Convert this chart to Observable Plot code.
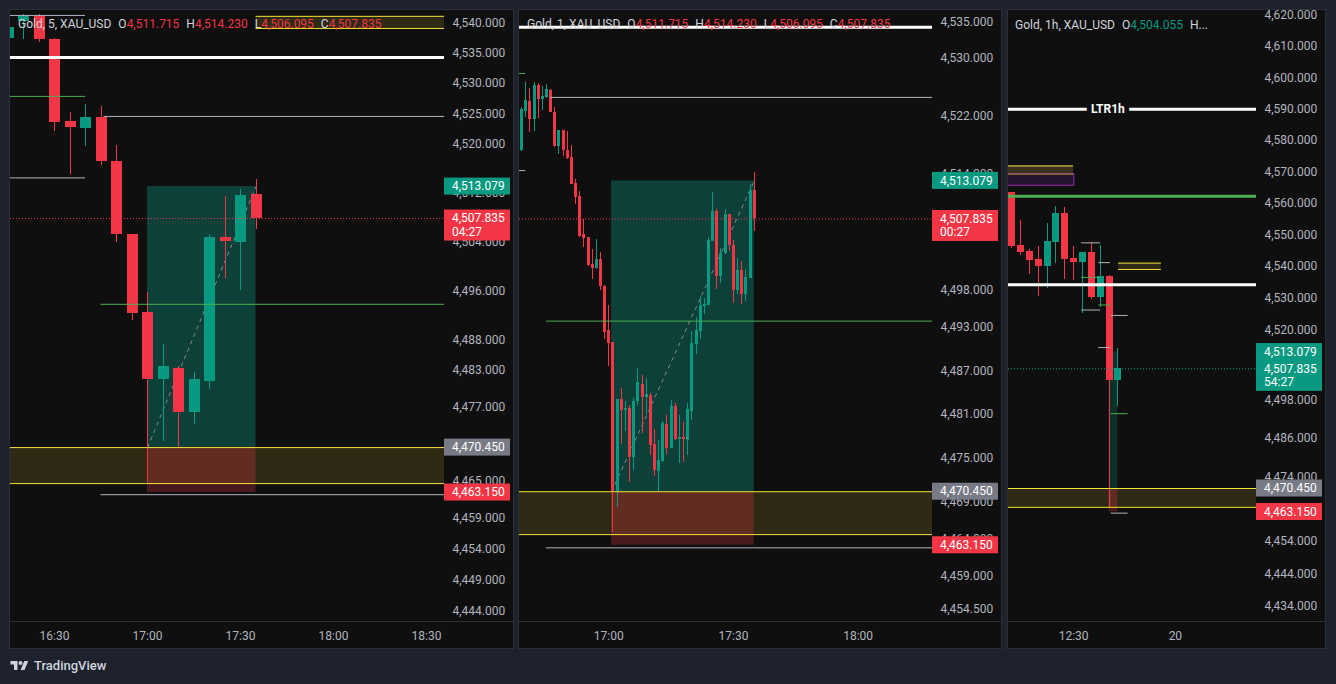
<!DOCTYPE html>
<html><head><meta charset="utf-8">
<script src="https://cdn.jsdelivr.net/npm/d3@7"></script>
<script src="https://cdn.jsdelivr.net/npm/@observablehq/plot@0.6"></script>
<style>
html,body{margin:0;padding:0;background:#1e222d;width:1336px;height:684px;overflow:hidden;font-family:Roboto,"Noto Sans",sans-serif;}
.panel{position:absolute;top:9px;height:638px;background:#0f0f0f;border:1px solid #2a2e39;}
.panel svg{position:absolute;left:0;top:0;}
.sep{position:absolute;left:0;right:0;top:611px;height:1px;background:#2a2e39;}
.hdr{position:absolute;font-size:12px;line-height:14px;color:#d1d4dc;white-space:nowrap;z-index:3;}
.hdr .k{margin-left:7px;}
.hdr .dn{color:#f23645;}
.hdr .up{color:#089981;}
#logo{position:absolute;left:10px;top:658px;display:flex;align-items:center;color:#d1d4dc;font-size:13px;font-weight:500;}
#logo svg{margin-right:5px;}
</style></head>
<body>
<div class="panel" id="p1" style="left:9px;width:503px"><div class="sep"></div></div>
<div class="panel" id="p2" style="left:518px;width:482px"><div class="sep"></div></div>
<div class="panel" id="p3" style="left:1007px;width:317px"><div class="sep"></div></div>
<div class="hdr" style="left:18px;top:17px"><span>Gold, 5, XAU_USD</span><span class="k">O</span><span class="dn">4,511.715</span><span class="k">H</span><span class="dn">4,514.230</span><span class="k">L</span><span class="dn">4,506.095</span><span class="k">C</span><span class="dn">4,507.835</span></div>
<div class="hdr" style="left:527px;top:17px"><span>Gold, 1, XAU_USD</span><span class="k">O</span><span class="dn">4,511.715</span><span class="k">H</span><span class="dn">4,514.230</span><span class="k">L</span><span class="dn">4,506.095</span><span class="k">C</span><span class="dn">4,507.835</span></div>
<div class="hdr" style="left:1015px;top:18px"><span>Gold, 1h, XAU_USD</span><span class="k">O</span><span class="up">4,504.055</span><span class="k">H...</span></div>
<div id="logo"><svg width="19" height="14" viewBox="0 0 36 28"><path d="M14 22H7V11H0V4h14v18zM28 22h-8l7.5-18h8L28 22z" fill="#d1d4dc"/><circle cx="20" cy="8" r="4" fill="#d1d4dc"/></svg>TradingView</div>
<script>
// ---------- data ----------
const m5Time  = ["16:15","16:20","16:25","16:30","16:35","16:40","16:45","16:50","16:55","17:00","17:05","17:10","17:15","17:20","17:25","17:30","17:35"];
const m5Open  = [4537.4,4540.2,4541.0,4537.2,4523.7,4522.6,4524.4,4517.2,4505.2,4492.5,4481.6,4483.4,4476.2,4481.2,4504.8,4503.9,4511.715];
const m5High  = [4539.6,4541.4,4541.4,4537.5,4525.3,4526.6,4526.3,4519.8,4505.2,4495.8,4487.2,4483.7,4482.7,4505.2,4511.5,4512.6,4514.23];
const m5Low   = [4537.1,4537.3,4536.8,4522.1,4515.1,4519.6,4516.5,4503.9,4491.2,4464.7,4471.5,4470.3,4474.2,4479.9,4498.1,4496.0,4506.095];
const m5Close = [4539.2,4541.0,4537.2,4523.6,4522.8,4524.4,4517.2,4505.2,4492.3,4481.6,4483.7,4476.2,4481.6,4504.8,4504.1,4511.6,4507.835];

const m1Time  = ["16:39","16:40","16:41","16:42","16:43","16:44","16:45","16:46","16:47","16:48","16:49","16:50","16:51","16:52","16:53","16:54","16:55","16:56","16:57","16:58","16:59",
                 "17:00","17:01","17:02","17:03","17:04","17:05","17:06","17:07","17:08","17:09","17:10","17:11","17:12","17:13","17:14","17:15","17:16","17:17","17:18","17:19",
                 "17:20","17:21","17:22","17:23","17:24","17:25","17:26","17:27","17:28","17:29","17:30","17:31","17:32","17:33","17:34","17:35"];
const m1Open  = [4517.30,4522.70,4524.03,4521.56,4526.22,4524.30,4524.57,4525.54,4522.52,4517.76,4520.05,4517.30,4516.34,4512.78,4510.99,4505.64,4505.23,4501.53,4500.98,4502.22,4498.51,
                 4492.48,4490.83,4470.44,4483.01,4481.55,4481.78,4475.10,4482.74,4485.07,4483.33,4483.56,4476.97,4473.18,4474.55,4479.58,4476.34,4482.10,4477.65,4477.80,4477.43,
                 4481.41,4490.55,4492.34,4495.82,4495.95,4504.73,4508.80,4499.93,4503.04,4508.39,4504.18,4498.01,4500.71,4497.46,4499.66,4511.715];
const m1High  = [4523.16,4526.63,4525.81,4526.63,4526.50,4526.08,4526.36,4525.67,4523.20,4520.05,4520.05,4519.91,4517.99,4513.33,4511.68,4507.70,4505.23,4503.59,4504.96,4503.18,4498.65,
                 4495.91,4490.83,4483.01,4484.52,4482.74,4482.19,4483.15,4487.27,4486.30,4485.89,4483.84,4478.90,4477.43,4480.04,4480.82,4482.88,4482.46,4480.82,4479.86,4482.46,
                 4492.34,4494.26,4497.14,4496.87,4505.23,4511.54,4509.08,4503.73,4509.08,4508.39,4504.82,4502.35,4501.94,4500.85,4512.64,4514.23];
const m1Low   = [4517.17,4521.88,4519.82,4519.96,4521.69,4522.79,4524.44,4522.50,4517.70,4516.76,4516.48,4516.07,4512.60,4509.76,4505.30,4503.86,4501.35,4499.47,4500.95,4497.96,4491.24,
                 4487.54,4464.90,4468.33,4476.97,4478.62,4471.67,4473.32,4482.24,4478.39,4480.96,4475.38,4472.50,4470.44,4474.50,4475.51,4476.30,4477.50,4474.28,4474.42,4475.38,
                 4480.18,4489.23,4491.29,4494.72,4495.90,4504.70,4498.15,4498.93,4503.00,4503.36,4496.23,4497.46,4496.09,4496.50,4499.60,4506.095];
const m1Close = [4522.93,4524.16,4521.56,4526.22,4524.30,4524.71,4525.67,4522.56,4517.76,4520.05,4517.30,4516.21,4512.64,4510.86,4505.37,4505.10,4501.39,4500.98,4502.22,4498.51,4492.20,
                 4490.69,4470.44,4483.01,4481.55,4481.78,4475.10,4482.74,4485.34,4483.33,4483.70,4476.75,4473.32,4474.65,4479.72,4476.34,4482.10,4477.57,4477.80,4477.65,4481.64,
                 4490.69,4492.48,4495.95,4496.09,4504.82,4508.80,4499.93,4503.04,4508.39,4504.18,4498.01,4500.71,4497.46,4499.75,4511.82,4507.835];

const h1Time  = ["05:30","06:30","07:30","08:30","09:30","10:30","11:30","12:30","13:30","14:30","15:30","16:30","17:30"];
const h1Open  = [4563.6,4546.8,4544.9,4542.3,4540.0,4547.7,4556.9,4542.6,4541.3,4544.5,4530.3,4536.8,4504.055];
const h1High  = [4563.6,4554.7,4545.5,4546.4,4553.7,4559.1,4558.8,4546.4,4544.5,4547.7,4546.8,4537.1,4514.23];
const h1Low   = [4545.8,4543.4,4537.5,4530.6,4533.1,4541.0,4536.0,4535.6,4525.2,4529.6,4527.2,4464.7,4496.09];
const h1Close = [4546.4,4544.6,4542.0,4540.0,4548.0,4556.9,4542.3,4541.3,4544.5,4530.3,4536.9,4504.06,4507.835];

const lastPrice = 4507.835, targetPrice = 4513.079, entryPrice = 4470.45, stopPrice = 4463.15;
const countdown = {m5: "04:27", m1: "00:27", h1: "54:27"};
const posFrom = {m5: "17:00", m1: "17:00:40", h1: "16:30"};
const posTo   = {m5: "17:35", m1: "17:35",    h1: "17:30"};

const whiteLevels = [4534.3, 4590];
const greenLevels = [4562.3];
const ltrText = ["LTR1h"], ltrValue = [4590], ltrTime = ["16:22"];

const swingValue = [4541.25, 4527.9, 4514.5, 4524.6, 4493.8, 4462.8, 4547.5, 4536.6, 4526.3];
const swingFrom  = ["15:21","15:21","15:21","16:46","16:45","16:45","13:24","13:24","13:24"];
const swingTo    = ["16:40","16:40","16:40","18:40","18:40","18:40","15:33","15:33","15:33"];
const swingKind  = ["edge","mid","edge","edge","mid","edge","edge","mid","edge"];

const zoneTop    = [4470.45, 4541.1, 4571.9];
const zoneBottom = [4464.6, 4539.1, 4569.3];
const zoneFrom   = ["00:00","17:35","00:00"];
const zoneTo     = ["36:00","22:25","12:30"];
const zoneKind   = ["ltf","ltf","htf"];
const obTop = [4569.3], obBottom = [4565.6], obFrom = ["00:00"], obTo = ["12:35"];

const m5Ticks = ["16:30","17:00","17:30","18:00","18:30"];
const m1Ticks = ["17:00","17:30","18:00"];
const h1Ticks = ["12:30","24:00"];
const m5Prices = [4540,4535,4530,4525,4520,4512,4504,4496,4488,4483,4477,4465,4459,4454,4449,4444];
const m1Prices = [4535,4530,4522,4514,4498,4493,4487,4481,4475,4469,4464,4459,4454.5];
const h1Prices = [4620,4610,4600,4590,4580,4570,4560,4550,4540,4530,4520,4498,4486,4474,4464,4454,4444,4434];

// ---------- helpers ----------
const T = s => { const [h, m, sec = 0] = s.split(":").map(Number); return new Date(Date.UTC(2026, 0, 19, h, m, sec)); };
const fmtPrice = d3.format(",.3f");
const UP = "#089981", DOWN = "#f23645";
const toCandles = (time, o, h, l, c) => time.map((t, i) => ({t: T(t), open: o[i], high: h[i], low: l[i], close: c[i]}));
function timeDomain(anchor, anchorX, pxPerMin, left, right) {
  const a = T(anchor).getTime();
  return [new Date(a - (anchorX - left) / pxPerMin * 60000), new Date(a + (right - anchorX) / pxPerMin * 60000)];
}
function logDomain(v1, y1, v2, y2, top, bottom) {
  const b = (y2 - y1) / (Math.log(v1) - Math.log(v2));
  return [v1 * Math.exp(-(bottom - y1) / b), v1 * Math.exp((y1 - top) / b)];
}
const swings = swingValue.map((v, i) => ({v, from: T(swingFrom[i]), to: T(swingTo[i]), kind: swingKind[i]}));
const zones = zoneTop.map((v, i) => ({top: v, bottom: zoneBottom[i], from: T(zoneFrom[i]), to: T(zoneTo[i]), kind: zoneKind[i]}));
const obs = obTop.map((v, i) => ({top: v, bottom: obBottom[i], from: T(obFrom[i]), to: T(obTo[i])}));
const ltr = ltrText.map((s, i) => ({label: s, v: ltrValue[i], t: T(ltrTime[i])}));

function priceTags(tags) {
  return (index, scales, values, dimensions) => {
    const g = d3.create("svg:g").attr("class", "ptags").attr("text-anchor", "start").attr("font-size", 12);
    const x0 = dimensions.width - dimensions.marginRight;
    for (const tg of tags) {
      const y = scales.y(tg.value);
      g.append("rect").attr("x", x0).attr("y", y - 8.5).attr("width", 66).attr("height", tg.sub ? 31 : 17).attr("fill", tg.bg);
      g.append("text").attr("x", x0 + 8).attr("y", y).attr("dy", "0.35em").attr("text-anchor", "start").attr("fill", "#ffffff").text(fmtPrice(tg.value));
      if (tg.sub) g.append("text").attr("x", x0 + 8).attr("y", y + 13.5).attr("dy", "0.35em").attr("text-anchor", "start").attr("fill", "#ffffff").text(tg.sub);
    }
    return g.node();
  };
}

function panel(cfg) {
  const candles = cfg.candles;
  const [yLo, yHi] = cfg.yDomain;
  const pos = [{from: T(posFrom[cfg.key]), to: T(posTo[cfg.key]), entry: entryPrice, target: targetPrice, stop: stopPrice}];
  const col = d => d.close >= d.open ? UP : DOWN;
  const lastUp = candles[candles.length - 1].close >= candles[candles.length - 1].open;
  const curCol = cfg.key === "h1" ? (lastUp ? UP : DOWN) : DOWN;
  const tags = [
    {value: targetPrice, bg: UP},
    {value: lastPrice, bg: curCol, sub: countdown[cfg.key]},
    {value: entryPrice, bg: "#787b86"},
    {value: stopPrice, bg: DOWN}
  ];
  const svg = Plot.plot({
    width: cfg.width, height: 638,
    marginLeft: 0, marginRight: 69, marginTop: 0, marginBottom: 26,
    style: {background: "transparent", color: "#b2b5be", fontFamily: "Roboto, 'Noto Sans', sans-serif", fontSize: "12px", overflow: "visible"},
    color: {type: "identity"},
    x: {type: "utc", domain: cfg.xDomain, ticks: cfg.xTicks.map(T), tickFormat: cfg.xFormat, tickSize: 0, tickPadding: 9, label: null},
    y: {type: "log", domain: cfg.yDomain, ticks: cfg.yTicks, tickFormat: fmtPrice, tickSize: 0, tickPadding: 8, label: null, axis: "right"},
    marks: [
      Plot.rect(zones, {x1: "from", x2: "to", y1: "bottom", y2: "top", fill: d => d.kind === "htf" ? "#3a3121" : "#2e2a16", clip: true}),
      Plot.rect(obs, {x1: "from", x2: "to", y1: "bottom", y2: "top", fill: "#271530", stroke: "#9c27b0", strokeWidth: 1, clip: true}),
      Plot.rect(pos, {x1: "from", x2: "to", y1: "entry", y2: "target", fill: UP, fillOpacity: cfg.tealOpacity, clip: true}),
      Plot.rect(pos, {x1: "from", x2: "to", y1: "stop", y2: "entry", fill: DOWN, fillOpacity: 0.26, clip: true}),
      cfg.trend ? Plot.link(pos, {x1: "from", y1: "entry", x2: "to", y2: "target", stroke: "#868993", strokeWidth: 1, strokeDasharray: "4,4", clip: true}) : null,
      Plot.ruleX(candles, {x: "t", y1: "low", y2: "high", stroke: col, strokeWidth: 1, clip: true, shapeRendering: "crispEdges"}),
      Plot.ruleX(candles, {x: "t", y1: "open", y2: "close", stroke: col, strokeWidth: cfg.bodyWidth, clip: true, shapeRendering: "crispEdges"}),
      Plot.ruleY(zones, {y: "top", x1: "from", x2: "to", stroke: "#f5e23a", strokeWidth: 1, clip: true}),
      Plot.ruleY(zones, {y: "bottom", x1: "from", x2: "to", stroke: d => d.kind === "htf" ? "#a59a2a" : "#f5e23a", strokeWidth: 1, clip: true}),
      Plot.ruleY(swings, {y: "v", x1: "from", x2: "to", stroke: d => d.kind === "mid" ? "#4caf50" : "#b2b5be", strokeWidth: 1, clip: true}),
      Plot.ruleY(whiteLevels, {stroke: "#ffffff", strokeWidth: 3, clip: true}),
      Plot.ruleY(greenLevels, {stroke: "#4caf50", strokeWidth: 3, clip: true}),
      Plot.text(ltr.filter(d => d.v >= yLo && d.v <= yHi), {x: "t", y: "v", text: "label", fill: "#ffffff", stroke: "#0f0f0f", strokeWidth: 10, fontWeight: "bold", fontSize: 12, clip: true}),
      Plot.ruleY([lastPrice], {stroke: curCol, strokeWidth: 1, strokeDasharray: "1,2"}),
      priceTags(tags)
    ].filter(Boolean)
  });
  const g = svg.querySelector("g.ptags");
  if (g) svg.appendChild(g);
  document.getElementById(cfg.id).appendChild(svg);
}

const hm = d3.utcFormat("%H:%M");
panel({id: "p1", key: "m5", width: 503, bodyWidth: 11, tealOpacity: 0.36, trend: true,
  candles: toCandles(m5Time, m5Open, m5High, m5Low, m5Close),
  xDomain: timeDomain("17:00", 147, 3.1, 10, 444), xTicks: m5Ticks, xFormat: hm,
  yDomain: logDomain(4540, 22.5, 4444, 610.3, 10, 622), yTicks: m5Prices});
panel({id: "p2", key: "m1", width: 482, bodyWidth: 3, tealOpacity: 0.36, trend: true,
  candles: toCandles(m1Time, m1Open, m1High, m1Low, m1Close),
  xDomain: timeDomain("17:00", 608.3, 4.155, 519, 932), xTicks: m1Ticks, xFormat: hm,
  yDomain: logDomain(4535, 21.7, 4454.5, 608.3, 10, 622), yTicks: m1Prices});
panel({id: "p3", key: "h1", width: 317, bodyWidth: 7, tealOpacity: 0.24, trend: false,
  candles: toCandles(h1Time, h1Open, h1High, h1Low, h1Close),
  xDomain: timeDomain("16:30", 1108.5, 8.85 / 60, 1008, 1256), xTicks: h1Ticks,
  xFormat: d => d.getUTCHours() === 0 && d.getUTCMinutes() === 0 ? String(d.getUTCDate()) : hm(d),
  yDomain: logDomain(4620, 15, 4434, 605.7, 10, 622), yTicks: h1Prices});
</script>
</body></html>
